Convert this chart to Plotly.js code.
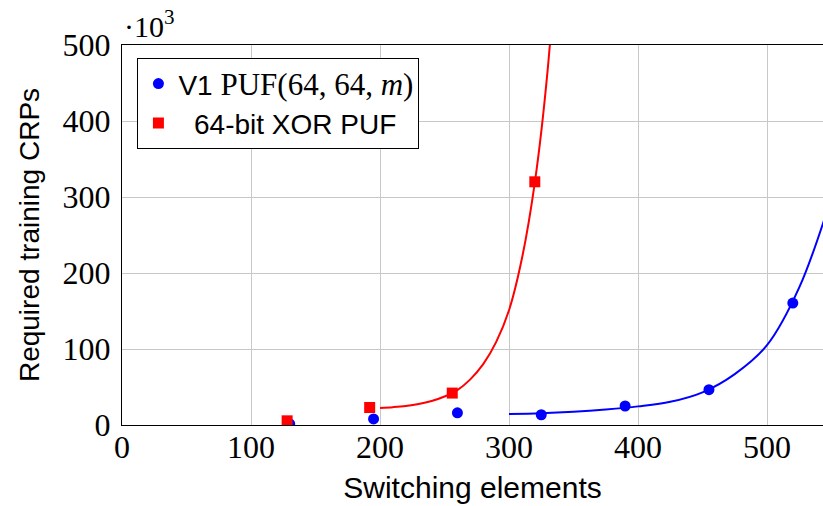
<!DOCTYPE html>
<html>
<head>
<meta charset="utf-8">
<script src="https://cdn.plot.ly/plotly-3.0.1.min.js"></script>
<style>html,body{margin:0;padding:0;background:#fff;}#chart{width:823px;height:506px;}</style>
</head>
<body>
<div id="chart"></div>
<script>
// Measured points (x: switching elements, y: training CRPs in thousands)
const v1X = [130, 195, 260, 325, 390, 455, 520];
const v1Y = [1.5, 8, 16, 13.5, 25, 46.5, 160.5];
const xorX = [128, 192, 256, 320];
const xorY = [5.5, 23, 42, 320];
// Fitted curves (points beyond the axis range are clipped)
const v1FitX = [300, 325, 350, 375, 400, 425, 450, 475, 500, 525, 550];
const v1FitY = [14.5, 15.5, 17.5, 20.5, 24.5, 30.5, 43, 67, 105, 181, 300];
const xorFitX = [200, 210, 220, 230, 240, 250, 260, 270, 280, 290, 300, 310, 320, 330, 340];
const xorFitY = [22.5, 23.5, 25, 27.5, 31.5, 37.5, 46, 60, 80, 109, 151, 219, 319, 468, 700];
const xTicks = [0, 100, 200, 300, 400, 500];
const yTicks = [0, 100, 200, 300, 400, 500];

const serif = "Liberation Serif, DejaVu Serif, serif";
const sans = "Liberation Sans, Arial, sans-serif";

const traces = [
  {x: v1FitX, y: v1FitY, mode: 'lines', line: {color: '#0000ff', width: 2, shape: 'spline', smoothing: 1}, showlegend: false, hoverinfo: 'skip', cliponaxis: true},
  {x: xorFitX, y: xorFitY, mode: 'lines', line: {color: '#ff0000', width: 2, shape: 'spline', smoothing: 1}, showlegend: false, hoverinfo: 'skip', cliponaxis: true},
  {x: v1X, y: v1Y, mode: 'markers', name: 'V1 <span style="font-family:Liberation Serif;font-size:31px">PUF(64, 64, <i>m</i>)</span>', marker: {color: '#0000ff', size: 11, symbol: 'circle'}},
  {x: xorX, y: xorY, mode: 'markers', name: '  64-bit XOR PUF', marker: {color: '#ff0000', size: 11, symbol: 'square'}}
];

const layout = {
  width: 823, height: 506,
  margin: {l: 122, r: 0, t: 45, b: 81},
  paper_bgcolor: '#fff', plot_bgcolor: '#fff',
  showlegend: true,
  legend: {
    x: 0.022, y: 0.966, xanchor: 'left', yanchor: 'top',
    bgcolor: '#fff', bordercolor: '#000', borderwidth: 1,
    font: {family: sans, size: 28, color: '#000'},
    itemwidth: 30, tracegroupgap: 0
  },
  xaxis: {
    range: [0, 543.4], tickvals: xTicks, ticktext: xTicks.map(String),
    showgrid: true, gridcolor: '#c8c8c8', gridwidth: 1,
    showline: true, linecolor: '#000', linewidth: 1, mirror: true,
    zeroline: false, ticks: '', ticklabelstandoff: -6,
    tickfont: {family: serif, size: 32, color: '#000'},
    title: {text: 'Switching elements', font: {family: sans, size: 30, color: '#000'}, standoff: 12}
  },
  yaxis: {
    range: [0, 500], tickvals: yTicks, ticktext: yTicks.map(String),
    showgrid: true, gridcolor: '#c8c8c8', gridwidth: 1,
    showline: true, linecolor: '#000', linewidth: 1, mirror: false,
    zeroline: false, ticks: '', ticklabelstandoff: 4,
    tickfont: {family: serif, size: 32, color: '#000'},
    title: {text: 'Required training CRPs', font: {family: sans, size: 28, color: '#000'}, standoff: 14}
  },
  annotations: [{
    text: '·10<sup>3</sup>', xref: 'paper', yref: 'paper', x: 0, y: 1, xanchor: 'left', yanchor: 'bottom',
    showarrow: false, font: {family: serif, size: 30, color: '#000'}, yshift: 0
  }]
};

Plotly.newPlot('chart', traces, layout, {displayModeBar: false, staticPlot: true});
</script>
</body>
</html>
